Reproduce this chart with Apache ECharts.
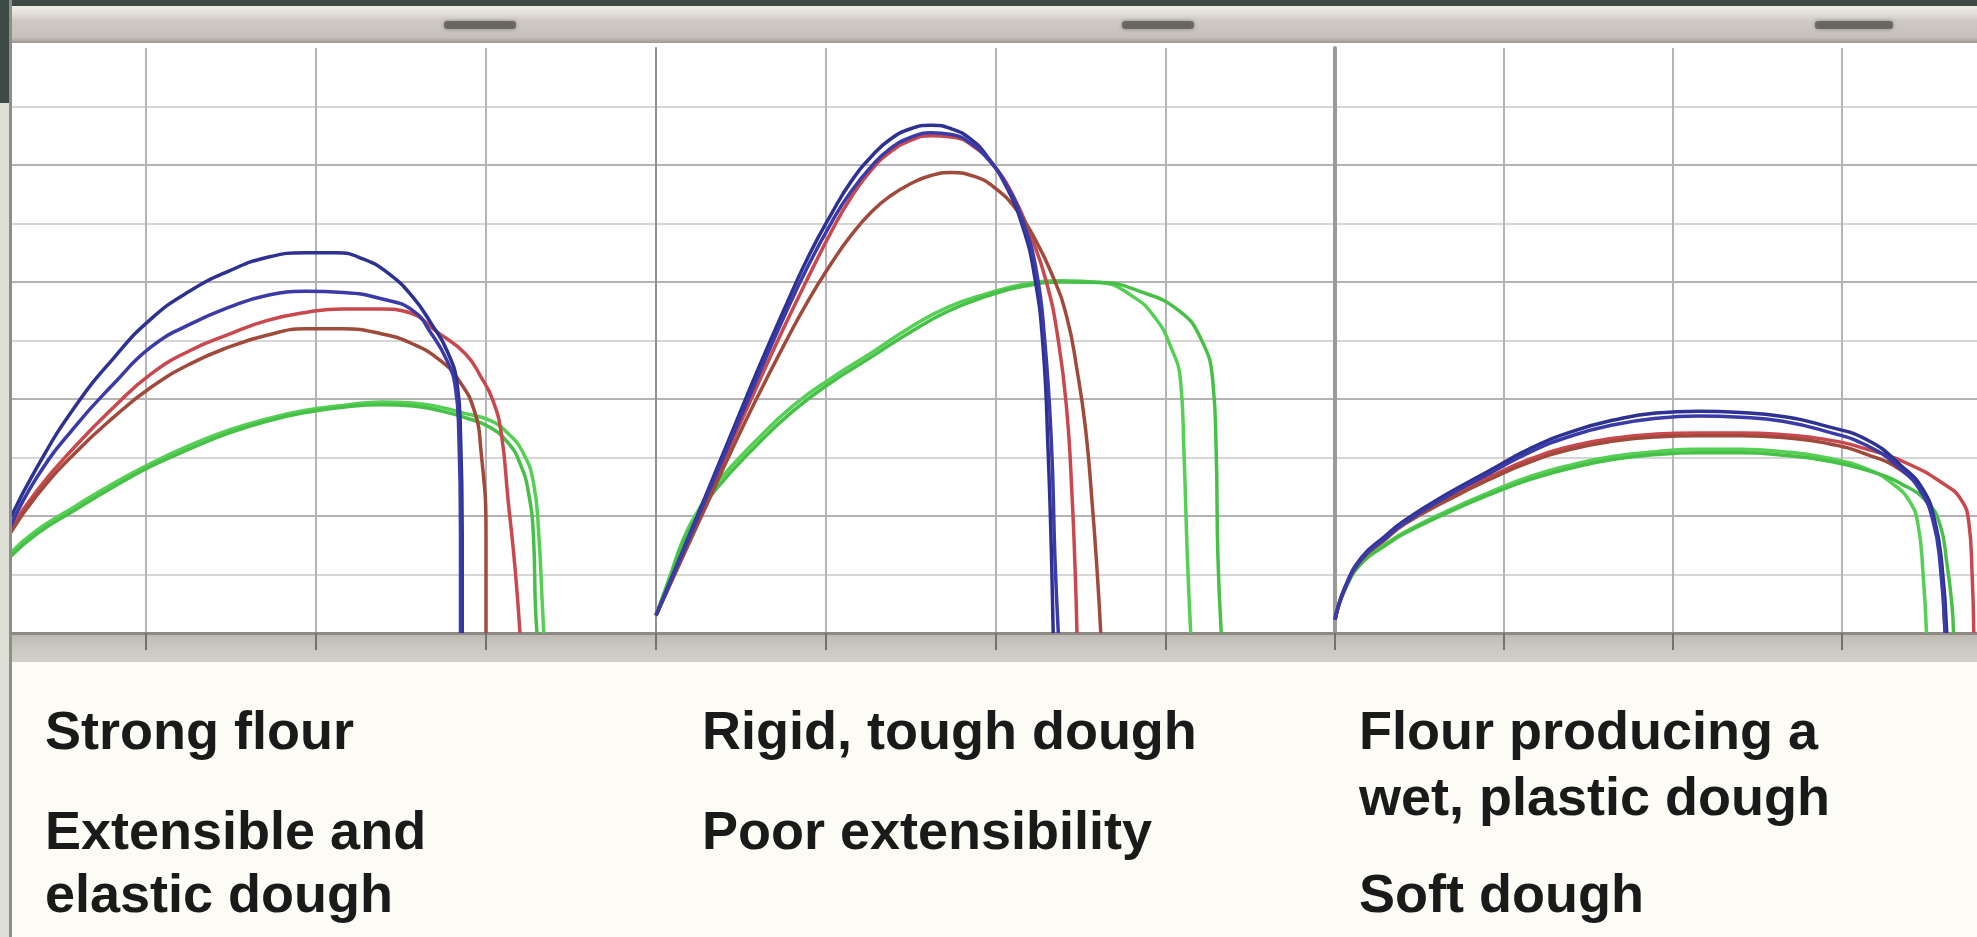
<!DOCTYPE html>
<html><head><meta charset="utf-8">
<script src="https://cdn.jsdelivr.net/npm/echarts@6/dist/echarts.min.js"></script>
<style>html,body{margin:0;padding:0;background:#fcfbf6;overflow:hidden}#c{width:1977px;height:937px}</style>
</head><body><div id="c"></div>
<script>
// ---- data: [extension (grid units), resistance (grid units)] ----
const p1Blue1 = [[0.2,1.95],[0.36,2.84],[0.58,3.86],[0.81,4.7],[1.03,5.37],[1.26,5.85],[1.49,6.19],[1.71,6.42],[1.94,6.5],[2.12,6.5],[2.28,6.39],[2.43,6.14],[2.57,5.74],[2.68,5.28],[2.77,4.83],[2.83,4.26],[2.85,3.41],[2.86,1.7],[2.86,0]];
const p1Blue2 = [[0.2,1.8],[0.36,2.67],[0.58,3.52],[0.81,4.26],[1.03,4.89],[1.26,5.28],[1.49,5.57],[1.71,5.77],[1.94,5.84],[2.16,5.82],[2.39,5.71],[2.57,5.51],[2.68,5.11],[2.77,4.66],[2.82,4.2],[2.84,3.41],[2.85,1.7],[2.85,0]];
const p1Red1 = [[0.2,1.76],[0.36,2.44],[0.58,3.18],[0.81,3.86],[1.03,4.43],[1.26,4.83],[1.49,5.11],[1.71,5.34],[1.94,5.48],[2.16,5.54],[2.39,5.54],[2.52,5.5],[2.73,5.11],[2.88,4.77],[2.97,4.38],[3.04,3.98],[3.09,3.41],[3.13,2.27],[3.17,1.14],[3.2,0]];
const p1Red2 = [[0.2,1.7],[0.36,2.36],[0.58,3.07],[0.81,3.69],[1.03,4.2],[1.26,4.6],[1.49,4.89],[1.71,5.09],[1.94,5.2],[2.16,5.2],[2.39,5.11],[2.57,4.94],[2.73,4.66],[2.84,4.32],[2.93,3.81],[2.97,3.13],[3.0,1.7],[3.0,0]];
const p1Green1 = [[0.2,1.36],[0.36,1.76],[0.58,2.16],[0.81,2.56],[1.03,2.9],[1.26,3.21],[1.49,3.47],[1.71,3.66],[1.94,3.81],[2.16,3.89],[2.39,3.95],[2.57,3.93],[2.73,3.86],[2.88,3.75],[3.02,3.64],[3.13,3.41],[3.22,3.07],[3.28,2.56],[3.31,1.7],[3.33,0.57],[3.34,0]];
const p1Green2 = [[0.2,1.3],[0.36,1.7],[0.58,2.1],[0.81,2.5],[1.03,2.85],[1.26,3.15],[1.49,3.42],[1.71,3.62],[1.94,3.77],[2.16,3.86],[2.39,3.9],[2.57,3.88],[2.73,3.8],[2.88,3.68],[3.02,3.52],[3.13,3.25],[3.2,2.9],[3.25,2.4],[3.28,1.6],[3.29,0.5],[3.3,0]];

const p2Blue1 = [[0,0.3],[0.15,1.35],[0.3,2.4],[0.45,3.45],[0.6,4.5],[0.75,5.5],[0.9,6.45],[1.04,7.2],[1.15,7.72],[1.27,8.15],[1.38,8.44],[1.5,8.62],[1.62,8.68],[1.74,8.62],[1.85,8.45],[1.95,8.15],[2.06,7.65],[2.16,6.95],[2.23,6.1],[2.28,4.9],[2.31,3.1],[2.33,1.3],[2.34,0]];
const p2Blue2 = [[0,0.3],[0.15,1.32],[0.3,2.34],[0.45,3.36],[0.6,4.38],[0.75,5.38],[0.9,6.3],[1.04,7.05],[1.15,7.55],[1.27,7.98],[1.38,8.28],[1.5,8.47],[1.62,8.55],[1.74,8.52],[1.85,8.38],[1.95,8.12],[2.06,7.68],[2.16,7.05],[2.24,6.2],[2.29,5.0],[2.33,3.2],[2.35,1.3],[2.37,0]];
const p2Red1 = [[0,0.3],[0.15,1.28],[0.3,2.28],[0.45,3.28],[0.6,4.25],[0.75,5.2],[0.9,6.1],[1.04,6.9],[1.15,7.45],[1.27,7.92],[1.38,8.22],[1.5,8.42],[1.62,8.5],[1.74,8.48],[1.88,8.3],[2.0,7.95],[2.1,7.5],[2.2,6.85],[2.3,6.0],[2.37,5.0],[2.42,3.8],[2.45,2.4],[2.47,1.0],[2.48,0]];
const p2Red2 = [[0,0.3],[0.15,1.25],[0.3,2.2],[0.45,3.15],[0.6,4.05],[0.75,4.9],[0.9,5.7],[1.04,6.35],[1.15,6.8],[1.27,7.2],[1.38,7.47],[1.5,7.68],[1.62,7.82],[1.74,7.87],[1.88,7.8],[2.0,7.6],[2.12,7.25],[2.22,6.8],[2.33,6.15],[2.42,5.4],[2.48,4.5],[2.53,3.5],[2.57,2.2],[2.6,1.0],[2.62,0]];
const p2Green1 = [[0,0.3],[0.08,0.95],[0.16,1.6],[0.25,2.1],[0.36,2.57],[0.59,3.29],[0.81,3.89],[1.04,4.37],[1.27,4.79],[1.49,5.21],[1.72,5.57],[1.95,5.8],[2.17,5.96],[2.4,6.02],[2.62,5.99],[2.81,5.75],[2.94,5.39],[3.03,4.91],[3.09,4.31],[3.11,3.11],[3.13,1.32],[3.15,0]];
const p2Green2 = [[0,0.3],[0.08,0.92],[0.16,1.55],[0.25,2.02],[0.36,2.48],[0.59,3.2],[0.81,3.8],[1.04,4.3],[1.27,4.72],[1.49,5.13],[1.72,5.5],[1.95,5.76],[2.17,5.93],[2.4,6.0],[2.62,5.99],[2.85,5.84],[3.08,5.51],[3.21,5.03],[3.28,4.31],[3.3,3.11],[3.31,1.32],[3.33,0]];

const p3Blue1 = [[0,0.23],[0.06,0.79],[0.16,1.3],[0.29,1.64],[0.41,1.92],[0.66,2.37],[0.91,2.77],[1.16,3.16],[1.41,3.45],[1.65,3.64],[1.9,3.76],[2.15,3.79],[2.4,3.77],[2.65,3.7],[2.9,3.54],[3.15,3.3],[3.35,2.86],[3.48,2.45],[3.55,1.9],[3.59,1.2],[3.62,0]];
const p3Blue2 = [[0,0.23],[0.06,0.77],[0.16,1.27],[0.29,1.6],[0.41,1.88],[0.66,2.33],[0.91,2.72],[1.16,3.1],[1.41,3.38],[1.65,3.56],[1.9,3.67],[2.15,3.71],[2.4,3.69],[2.65,3.62],[2.9,3.45],[3.15,3.2],[3.35,2.8],[3.47,2.4],[3.54,1.9],[3.58,1.2],[3.61,0]];
const p3Red1 = [[0,0.23],[0.06,0.78],[0.16,1.28],[0.29,1.62],[0.41,1.9],[0.66,2.3],[0.91,2.66],[1.16,2.98],[1.41,3.2],[1.65,3.33],[1.9,3.4],[2.15,3.42],[2.4,3.42],[2.65,3.39],[2.9,3.31],[3.15,3.14],[3.4,2.88],[3.6,2.55],[3.7,2.3],[3.75,1.9],[3.77,1.0],[3.78,0]];
const p3Red2 = [[0,0.23],[0.06,0.77],[0.16,1.26],[0.29,1.58],[0.41,1.86],[0.66,2.26],[0.91,2.62],[1.16,2.93],[1.41,3.15],[1.65,3.28],[1.9,3.35],[2.15,3.37],[2.4,3.37],[2.65,3.34],[2.9,3.25],[3.15,3.05],[3.35,2.78],[3.47,2.42],[3.54,1.95],[3.58,1.3],[3.61,0]];
const p3Green1 = [[0,0.23],[0.06,0.76],[0.16,1.22],[0.29,1.5],[0.41,1.72],[0.66,2.08],[0.91,2.4],[1.16,2.68],[1.41,2.88],[1.65,3.02],[1.9,3.1],[2.15,3.14],[2.4,3.14],[2.65,3.1],[2.9,3.0],[3.15,2.8],[3.3,2.55],[3.4,2.25],[3.45,1.85],[3.48,1.0],[3.5,0]];
const p3Green2 = [[0,0.23],[0.06,0.75],[0.16,1.2],[0.29,1.48],[0.41,1.7],[0.66,2.05],[0.91,2.36],[1.16,2.63],[1.41,2.83],[1.65,2.97],[1.9,3.05],[2.15,3.08],[2.4,3.08],[2.65,3.04],[2.9,2.95],[3.15,2.78],[3.35,2.55],[3.5,2.25],[3.58,1.85],[3.62,1.2],[3.65,0.5],[3.66,0]];

const captions1 = ['Strong flour', 'Extensible and', 'elastic dough'];
const captions2 = ['Rigid, tough dough', 'Poor extensibility'];
const captions3 = ['Flour producing a', 'wet, plastic dough', 'Soft dough'];

// ---- chart ----
const chart = echarts.init(document.getElementById('c'), null, {renderer: 'canvas', width: 1977, height: 937});
const panels = [
  {left: -24, width: 680, curves: [p1Green1, p1Green2, p1Red1, p1Red2, p1Blue1, p1Blue2], yLine: {show: false}},
  {left: 656, width: 679, curves: [p2Green1, p2Green2, p2Red1, p2Red2, p2Blue1, p2Blue2], yLine: {show: true, lineStyle: {color: '#8e8e8a', width: 2}}},
  {left: 1335, width: 676, curves: [p3Green1, p3Green2, p3Red1, p3Red2, p3Blue1, p3Blue2], yLine: {show: true, lineStyle: {color: '#9a9a96', width: 4}}}
];
const lineColors = ['#55d055', '#47c047', '#c8484e', '#a04a3c', '#2d3192', '#3b3ba8'];

const grids = [], xAxes = [], yAxes = [], series = [];
panels.forEach((p, i) => {
  grids.push({left: p.left, width: p.width, top: 48, height: 585, outerBoundsMode: 'none', containLabel: false});
  xAxes.push({type: 'value', gridIndex: i, min: 0, max: 4, interval: 1,
    axisLabel: {show: false},
    axisLine: {show: true, lineStyle: {color: '#8d8a85', width: 3}},
    axisTick: {show: true, length: 17, lineStyle: {color: '#75726d', width: 2}},
    splitLine: {show: true, lineStyle: {color: '#b4b4b4', width: 2}}});
  yAxes.push({type: 'value', gridIndex: i, min: 0, max: 10, interval: 1,
    axisLabel: {show: false}, axisTick: {show: false},
    axisLine: p.yLine,
    splitLine: {show: true, showMaxLine: false, lineStyle: {color: ['#b3b3b3', '#d6d6d6'], width: 2}}});
  p.curves.forEach((c, j) => {
    series.push({type: 'line', xAxisIndex: i, yAxisIndex: i, data: c, smooth: 0.5,
      symbol: 'none', showSymbol: false, silent: true, z: 2 + j,
      lineStyle: {color: lineColors[j], width: 3.5}});
  });
});

const textFont = 'bold 54px "Liberation Sans", Arial, sans-serif';
function cap(text, x, y) {
  return {type: 'text', x: x, y: y, z: 120, silent: true,
    style: {text: text, font: textFont, fill: '#1a1a1a', verticalAlign: 'middle', align: 'left'}};
}
const graphics = [
  {type: 'rect', z: -10, silent: true, shape: {x: 0, y: 42, width: 1977, height: 591}, style: {fill: '#fefefe'}},
  {type: 'rect', z: -10, silent: true, shape: {x: 0, y: 633, width: 1977, height: 29},
    style: {fill: new echarts.graphic.LinearGradient(0, 0, 0, 1, [{offset: 0, color: '#bdb9b2'}, {offset: 0.5, color: '#cbc8c1'}, {offset: 1, color: '#d3d0c9'}])}},
  {type: 'rect', z: -10, silent: true, shape: {x: 0, y: 662, width: 1977, height: 275}, style: {fill: '#fcfbf6'}},
  {type: 'rect', z: 110, silent: true, shape: {x: 0, y: 5, width: 1977, height: 38},
    style: {fill: new echarts.graphic.LinearGradient(0, 0, 0, 1, [{offset: 0, color: '#f1eee7'}, {offset: 0.22, color: '#e3e0d9'}, {offset: 0.4, color: '#cfcbc4'}, {offset: 0.85, color: '#c6c2bb'}, {offset: 1, color: '#9c9891'}])}},
  {type: 'rect', z: 112, silent: true, shape: {x: 0, y: 0, width: 1977, height: 6}, style: {fill: '#3e4a46'}},
  {type: 'rect', z: 111, silent: true, shape: {x: 444, y: 21, width: 72, height: 8, r: 3}, style: {fill: '#5e5b56', opacity: 0.8, shadowBlur: 4, shadowColor: 'rgba(60,60,60,0.6)'}},
  {type: 'rect', z: 111, silent: true, shape: {x: 1122, y: 21, width: 72, height: 8, r: 3}, style: {fill: '#5e5b56', opacity: 0.8, shadowBlur: 4, shadowColor: 'rgba(60,60,60,0.6)'}},
  {type: 'rect', z: 111, silent: true, shape: {x: 1815, y: 21, width: 78, height: 8, r: 3}, style: {fill: '#5e5b56', opacity: 0.8, shadowBlur: 4, shadowColor: 'rgba(60,60,60,0.6)'}},
  {type: 'rect', z: 113, silent: true, shape: {x: 0, y: 0, width: 9, height: 937}, style: {fill: '#dfe1d6'}},
  {type: 'rect', z: 114, silent: true, shape: {x: 0, y: 0, width: 9, height: 103}, style: {fill: '#3e4a46'}},
  {type: 'rect', z: 115, silent: true, shape: {x: 9, y: 0, width: 3, height: 937}, style: {fill: '#8e8e88'}},
  cap(captions1[0], 45, 734), cap(captions1[1], 45, 834), cap(captions1[2], 45, 897),
  cap(captions2[0], 702, 734), cap(captions2[1], 702, 834),
  cap(captions3[0], 1359, 734), cap(captions3[1], 1359, 800), cap(captions3[2], 1359, 897)
];

chart.setOption({
  animation: false,
  backgroundColor: '#fcfbf6',
  grid: grids, xAxis: xAxes, yAxis: yAxes, series: series,
  graphic: graphics
});
</script></body></html>
